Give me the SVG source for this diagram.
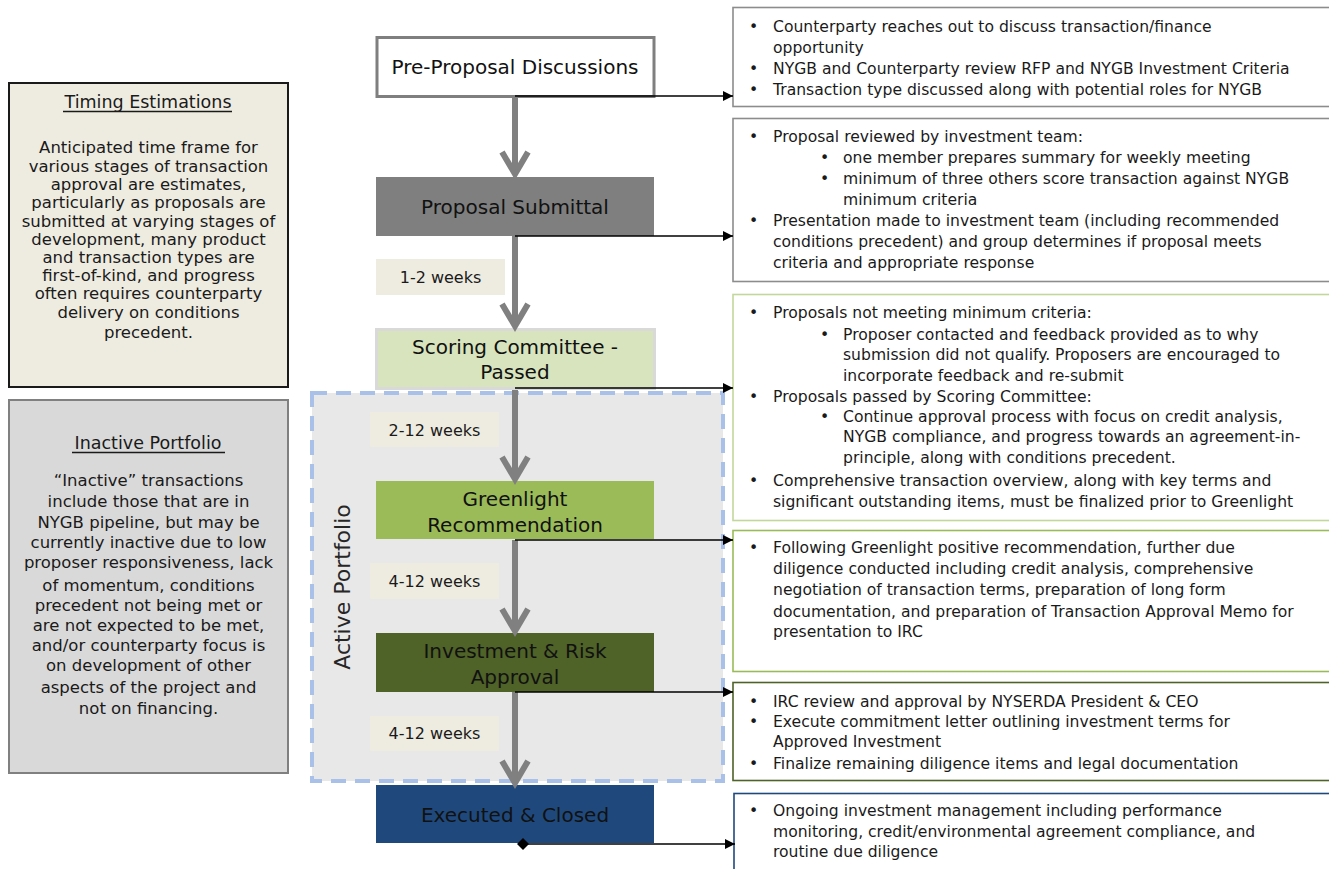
<svg xmlns="http://www.w3.org/2000/svg" width="1329" height="869" viewBox="0 0 1329 869">
<defs>
<style>
text{font-family:"DejaVu Sans","Liberation Sans",sans-serif;fill:#1a1a1a}
.lt{font-size:16.5px;text-anchor:middle}
.lh{font-size:17.5px;text-anchor:middle}
.nd{font-size:20px;text-anchor:middle;fill:#111}
.wk{font-size:16px;text-anchor:middle}
.rb{font-size:15.6px}
.flow{stroke:#808080;stroke-width:6;fill:none}
.chev{stroke:#808080;stroke-width:6;fill:none;stroke-linejoin:miter;stroke-miterlimit:10}
.con{stroke:#000;stroke-width:1.6;fill:none}
.lbl{fill:#EEECE1}
</style>
<marker id="ah" viewBox="0 0 10 10" refX="10" refY="5" markerWidth="11" markerHeight="10" markerUnits="userSpaceOnUse" orient="auto">
<path d="M0,0 L10,5 L0,10 z" fill="#000"/>
</marker>
<marker id="dm" viewBox="0 0 12 12" refX="6" refY="6" markerWidth="12" markerHeight="12" markerUnits="userSpaceOnUse" orient="auto">
<path d="M0,6 L6,0 L12,6 L6,12 z" fill="#000"/>
</marker>
</defs>
<rect width="1329" height="869" fill="#fff"/>

<g id="timing-estimations">
<rect x="9" y="83" width="279" height="304" fill="#EEECE1" stroke="#1a1a1a" stroke-width="2"/>
<text class="lh" x="148" y="108">Timing Estimations</text>
<line x1="63" y1="111.5" x2="232" y2="111.5" stroke="#1a1a1a" stroke-width="1.5"/>
<text class="lt" x="148.5" y="153">Anticipated time frame for</text>
<text class="lt" x="148.5" y="172">various stages of transaction</text>
<text class="lt" x="148.5" y="190">approval are estimates,</text>
<text class="lt" x="148.5" y="208">particularly as proposals are</text>
<text class="lt" x="148.5" y="227">submitted at varying stages of</text>
<text class="lt" x="148.5" y="245">development, many product</text>
<text class="lt" x="148.5" y="263">and transaction types are</text>
<text class="lt" x="148.5" y="281">first-of-kind, and progress</text>
<text class="lt" x="148.5" y="299">often requires counterparty</text>
<text class="lt" x="148.5" y="318">delivery on conditions</text>
<text class="lt" x="148.5" y="338">precedent.</text>
</g>

<g id="inactive-portfolio">
<rect x="9" y="400" width="279" height="373" fill="#D9D9D9" stroke="#808080" stroke-width="2"/>
<text class="lh" x="148" y="449">Inactive Portfolio</text>
<line x1="72" y1="452.5" x2="225" y2="452.5" stroke="#1a1a1a" stroke-width="1.5"/>
<text class="lt" x="148.5" y="486">“Inactive” transactions</text>
<text class="lt" x="148.5" y="507">include those that are in</text>
<text class="lt" x="148.5" y="528">NYGB pipeline, but may be</text>
<text class="lt" x="148.5" y="548">currently inactive due to low</text>
<text class="lt" x="148.5" y="568">proposer responsiveness, lack</text>
<text class="lt" x="148.5" y="591">of momentum, conditions</text>
<text class="lt" x="148.5" y="611">precedent not being met or</text>
<text class="lt" x="148.5" y="631">are not expected to be met,</text>
<text class="lt" x="148.5" y="651">and/or counterparty focus is</text>
<text class="lt" x="148.5" y="671">on development of other</text>
<text class="lt" x="148.5" y="693">aspects of the project and</text>
<text class="lt" x="148.5" y="714">not on financing.</text>
</g>

<g id="active-portfolio">
<rect x="312" y="393" width="411" height="388" fill="#E8E8E8" stroke="#A9C1E8" stroke-width="4" stroke-dasharray="15 9"/>
<text transform="translate(350,587) rotate(-90)" text-anchor="middle" font-size="22" style="fill:#262626">Active Portfolio</text>
</g>

<g id="timing-labels">
<rect class="lbl" x="376" y="259" width="129" height="36"/>
<text class="wk" x="440.5" y="283">1-2 weeks</text>
<rect class="lbl" x="370" y="412" width="129" height="35"/>
<text class="wk" x="434.5" y="436">2-12 weeks</text>
<rect class="lbl" x="370" y="563" width="129" height="36"/>
<text class="wk" x="434.5" y="587">4-12 weeks</text>
<rect class="lbl" x="370" y="716" width="129" height="35"/>
<text class="wk" x="434.5" y="739">4-12 weeks</text>
</g>

<g id="pre-proposal">
<rect x="377" y="37.5" width="277" height="59" fill="#fff" stroke="#7F7F7F" stroke-width="3"/>
<text class="nd" x="515" y="74">Pre-Proposal Discussions</text>
</g>
<g id="proposal-submittal">
<rect x="376" y="177" width="278" height="59" fill="#7F7F7F"/>
<text class="nd" x="515" y="214">Proposal Submittal</text>
</g>
<g id="scoring-committee">
<rect x="376.5" y="329.5" width="278" height="59" fill="#D7E4BD" stroke="#D9D9D9" stroke-width="3"/>
<text class="nd" x="515" y="354">Scoring Committee -</text>
<text class="nd" x="515" y="379">Passed</text>
</g>
<g id="greenlight">
<rect x="376" y="481" width="278" height="58" fill="#9BBB59"/>
<text class="nd" x="515" y="506">Greenlight</text>
<text class="nd" x="515" y="532">Recommendation</text>
</g>
<g id="investment-risk">
<rect x="376" y="633" width="278" height="59" fill="#4F6228"/>
<text class="nd" x="515" y="658">Investment &amp; Risk</text>
<text class="nd" x="515" y="684">Approval</text>
</g>
<g id="executed-closed">
<rect x="376" y="785" width="278" height="58" fill="#1F497D"/>
<text class="nd" x="515" y="822">Executed &amp; Closed</text>
</g>

<g id="notes-pre-proposal">
<rect x="733" y="7.5" width="610" height="99" fill="#fff" stroke="#8C8C8C" stroke-width="1.6"/>
<text class="rb" x="749" y="32">•</text><text class="rb" x="773" y="32">Counterparty reaches out to discuss transaction/finance</text>
<text class="rb" x="773" y="53">opportunity</text>
<text class="rb" x="749" y="74">•</text><text class="rb" x="773" y="74">NYGB and Counterparty review RFP and NYGB Investment Criteria</text>
<text class="rb" x="749" y="95">•</text><text class="rb" x="773" y="95">Transaction type discussed along with potential roles for NYGB</text>
</g>

<g id="notes-proposal-submittal">
<rect x="733" y="118.5" width="610" height="163" fill="#fff" stroke="#8C8C8C" stroke-width="1.6"/>
<text class="rb" x="749" y="142">•</text><text class="rb" x="773" y="142">Proposal reviewed by investment team:</text>
<text class="rb" x="820" y="163">•</text><text class="rb" x="843" y="163">one member prepares summary for weekly meeting</text>
<text class="rb" x="820" y="184">•</text><text class="rb" x="843" y="184">minimum of three others score transaction against NYGB</text>
<text class="rb" x="843" y="205">minimum criteria</text>
<text class="rb" x="749" y="226">•</text><text class="rb" x="773" y="226">Presentation made to investment team (including recommended</text>
<text class="rb" x="773" y="247">conditions precedent) and group determines if proposal meets</text>
<text class="rb" x="773" y="268">criteria and appropriate response</text>
</g>

<g id="notes-scoring">
<rect x="733" y="294.5" width="610" height="226" fill="#fff" stroke="#C3D69B" stroke-width="1.6"/>
<text class="rb" x="749" y="318">•</text><text class="rb" x="773" y="318">Proposals not meeting minimum criteria:</text>
<text class="rb" x="820" y="340">•</text><text class="rb" x="843" y="340">Proposer contacted and feedback provided as to why</text>
<text class="rb" x="843" y="360">submission did not qualify. Proposers are encouraged to</text>
<text class="rb" x="843" y="381">incorporate feedback and re-submit</text>
<text class="rb" x="749" y="402">•</text><text class="rb" x="773" y="402">Proposals passed by Scoring Committee:</text>
<text class="rb" x="820" y="422">•</text><text class="rb" x="843" y="422">Continue approval process with focus on credit analysis,</text>
<text class="rb" x="843" y="442">NYGB compliance, and progress towards an agreement-in-</text>
<text class="rb" x="843" y="463">principle, along with conditions precedent.</text>
<text class="rb" x="749" y="486">•</text><text class="rb" x="773" y="486">Comprehensive transaction overview, along with key terms and</text>
<text class="rb" x="773" y="507">significant outstanding items, must be finalized prior to Greenlight</text>
</g>

<g id="notes-greenlight">
<rect x="733" y="530.5" width="610" height="141" fill="#fff" stroke="#9BBB59" stroke-width="1.6"/>
<text class="rb" x="749" y="553">•</text><text class="rb" x="773" y="553">Following Greenlight positive recommendation, further due</text>
<text class="rb" x="773" y="574">diligence conducted including credit analysis, comprehensive</text>
<text class="rb" x="773" y="595">negotiation of transaction terms, preparation of long form</text>
<text class="rb" x="773" y="617">documentation, and preparation of Transaction Approval Memo for</text>
<text class="rb" x="773" y="637">presentation to IRC</text>
</g>

<g id="notes-investment">
<rect x="733" y="682.5" width="610" height="98" fill="#fff" stroke="#4F6228" stroke-width="1.6"/>
<text class="rb" x="749" y="707">•</text><text class="rb" x="773" y="707">IRC review and approval by NYSERDA President &amp; CEO</text>
<text class="rb" x="749" y="727">•</text><text class="rb" x="773" y="727">Execute commitment letter outlining investment terms for</text>
<text class="rb" x="773" y="747">Approved Investment</text>
<text class="rb" x="749" y="769">•</text><text class="rb" x="773" y="769">Finalize remaining diligence items and legal documentation</text>
</g>

<g id="notes-executed">
<rect x="734" y="793.5" width="610" height="120" fill="#fff" stroke="#1F497D" stroke-width="1.6"/>
<text class="rb" x="749" y="816">•</text><text class="rb" x="773" y="816">Ongoing investment management including performance</text>
<text class="rb" x="773" y="837">monitoring, credit/environmental agreement compliance, and</text>
<text class="rb" x="773" y="857">routine due diligence</text>
</g>

<g id="connectors">
<line class="flow" x1="515" y1="98" x2="515" y2="173"/>
<polyline class="chev" points="502,152 515,174 528,152"/>
<line class="flow" x1="515" y1="236" x2="515" y2="325"/>
<polyline class="chev" points="502,304 515,326 528,304"/>
<line class="flow" x1="515" y1="390" x2="515" y2="478"/>
<polyline class="chev" points="502,457 515,479 528,457"/>
<line class="flow" x1="515" y1="540" x2="515" y2="630"/>
<polyline class="chev" points="502,609 515,631 528,609"/>
<line class="flow" x1="515" y1="692" x2="515" y2="782"/>
<polyline class="chev" points="502,761 515,783 528,761"/>
<line class="con" x1="515" y1="96" x2="733" y2="96" marker-end="url(#ah)"/>
<line class="con" x1="515" y1="236" x2="733" y2="236" marker-end="url(#ah)"/>
<line class="con" x1="515" y1="388" x2="733" y2="388" marker-end="url(#ah)"/>
<line class="con" x1="515" y1="540" x2="733" y2="540" marker-end="url(#ah)"/>
<line class="con" x1="515" y1="692" x2="733" y2="692" marker-end="url(#ah)"/>
<line class="con" x1="523" y1="844" x2="735" y2="844" marker-start="url(#dm)" marker-end="url(#ah)"/>
</g>
</svg>
